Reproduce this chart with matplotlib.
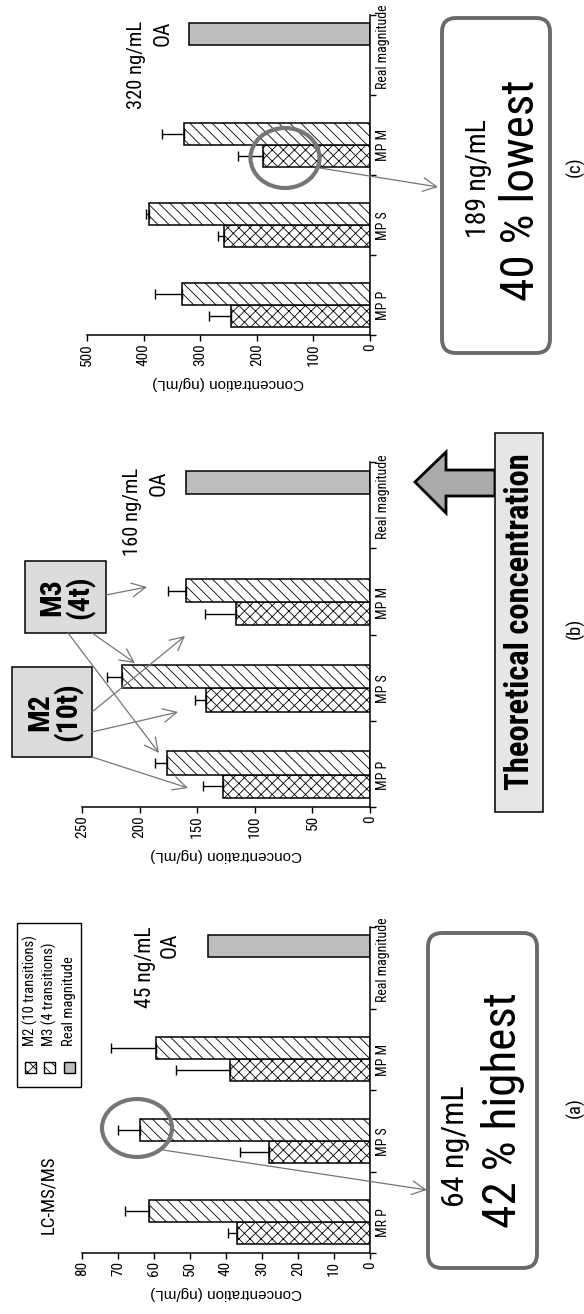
import numpy as np
import matplotlib.pyplot as plt
from matplotlib.patches import Rectangle, Ellipse, FancyBboxPatch, Polygon

plt.rcParams['font.family'] = ['Roboto Condensed', 'Liberation Sans', 'DejaVu Sans']
plt.rcParams['hatch.linewidth'] = 0.6

# data
cats_a = ['MR P', 'MP S', 'MP M', 'Real magnitude']
cats_bc = ['MP P', 'MP S', 'MP M', 'Real magnitude']

m2_a = [37, 28, 39]
m2_err_a = [2.5, 8, 15]
m3_a = [61.5, 64, 59.5]
m3_err_a = [6.5, 6, 12.5]
real_a = 45

m2_b = [128, 142, 116]
m2_err_b = [17, 10, 27]
m3_b = [176, 215, 160]
m3_err_b = [11, 13, 15]
real_b = 160

m2_c = [246, 258, 189]
m2_err_c = [39, 10, 45]
m3_c = [333, 390, 328]
m3_err_c = [46, 5, 40]
real_c = 320

W, H = 584, 1314
fig = plt.figure(figsize=(W / 100, H / 100), dpi=100)

GRAY = '#bdbdbd'
ANN = '#767676'


def draw_panel(rect, cats, m2, m2e, m3, m3e, real, vmax, step):
    l, t, r, b = rect
    ax = fig.add_axes([l / W, 1 - b / H, (r - l) / W, (b - t) / H])
    idx = np.arange(len(m2))
    ax.barh(idx + 0.24, m2, height=0.27, color='white', edgecolor='black',
            hatch='xxx', lw=1.1)
    ax.barh(idx + 0.51, m3, height=0.27, color='white', edgecolor='black',
            hatch='\\\\\\', lw=1.1)
    ax.barh(3.765, real, height=0.27, color=GRAY, edgecolor='black', lw=1.1)
    ax.errorbar(m2, idx + 0.24, xerr=[np.zeros(len(m2)), m2e], fmt='none',
                ecolor='black', elinewidth=1, capsize=3.5, capthick=1)
    ax.errorbar(m3, idx + 0.51, xerr=[np.zeros(len(m3)), m3e], fmt='none',
                ecolor='black', elinewidth=1, capsize=3.5, capthick=1)

    ax.set_xlim(vmax, 0)
    ax.set_ylim(0, 4)
    for s in ['top', 'left']:
        ax.spines[s].set_visible(False)
    for s in ['bottom', 'right']:
        ax.spines[s].set_linewidth(1.1)

    ax.set_xticks(np.arange(0, vmax + 1, step))
    ax.tick_params(axis='x', direction='out', length=4, width=1,
                   labelsize=11, labelrotation=90, pad=2)

    ax.yaxis.tick_right()
    ax.set_yticks([0, 1, 2, 3, 4])
    ax.set_yticklabels([])
    ax.set_yticks([0.37, 1.37, 2.37, 3.6], minor=True)
    ax.set_yticklabels(cats, minor=True, rotation=90, va='center', fontsize=10)
    ax.tick_params(axis='y', which='major', direction='out', length=4, width=1)
    ax.tick_params(axis='y', which='minor', length=0, pad=4)

    ax.set_xlabel('Concentration (ng/mL)', rotation=180, fontsize=11,
                  family=['Liberation Sans', 'DejaVu Sans'], labelpad=7)
    return ax


draw_panel((82, 927, 370, 1253), cats_a, m2_a, m2_err_a, m3_a, m3_err_a, real_a, 80, 10)
draw_panel((82, 462, 370, 807), cats_bc, m2_b, m2_err_b, m3_b, m3_err_b, real_b, 250, 50)
draw_panel((87, 15, 370, 335), cats_bc, m2_c, m2_err_c, m3_c, m3_err_c, real_c, 500, 100)

# overlay in image pixel coordinates for the annotations
ov = fig.add_axes([0, 0, 1, 1], zorder=10)
ov.set_xlim(0, W)
ov.set_ylim(H, 0)
ov.axis('off')
ov.patch.set_alpha(0)


def vtext(x, y, s, size, **kw):
    ov.text(x, y, s, rotation=90, ha=kw.pop('ha', 'center'), va=kw.pop('va', 'center'),
            fontsize=size, **kw)


def arrow(x0, y0, x1, y1):
    ov.annotate('', xy=(x1, y1), xytext=(x0, y0),
                arrowprops=dict(arrowstyle='->,head_length=0.7,head_width=0.35',
                                color=ANN, lw=0.9, shrinkA=0, shrinkB=0,
                                mutation_scale=14))


# panel (a)
vtext(48, 1195, 'LC-MS/MS', 13.5)
ov.add_patch(Rectangle((17, 923), 64, 164, fc='white', ec='black', lw=1))
legend_items = [('M2 (10 transitions)', 'xxx', 'white'),
                ('M3 (4 transitions)', '\\\\\\', 'white'),
                ('Real magnitude', None, GRAY)]
for k, (lab, hatch, fc) in enumerate(legend_items):
    x = 30 + k * 19.5
    ov.add_patch(Rectangle((x - 5.5, 1062), 11, 11, fc=fc, ec='black', lw=1, hatch=hatch))
    vtext(x, 1046, lab, 10.5, va='bottom')
vtext(145, 967, '45 ng/mL', 15.5)
vtext(170, 945, 'OA', 15.5)
ov.add_patch(Ellipse((137, 1128), 70, 58, fc='none', ec=ANN, lw=3))
arrow(163, 1150, 427, 1190)
ov.add_patch(FancyBboxPatch((428, 933), 109, 335, boxstyle='round,pad=0,rounding_size=14',
                            fc='white', ec='#6a6a6a', lw=2.8))
vtext(455, 1146, '64 ng/mL', 23)
vtext(503, 1110, '42 % highest', 34)
vtext(575, 1108, '(a)', 13.5)

# panel (b)
vtext(132, 512, '160 ng/mL', 14.8)
vtext(159, 483, 'OA', 15.5)
ov.add_patch(Rectangle((12, 667), 80, 90, fc='#dcdcdc', ec='black', lw=1.1))
vtext(55, 712, 'M2\n(10t)', 21.5, fontweight='bold', multialignment='center', linespacing=0.95)
ov.add_patch(Rectangle((25, 561), 81, 72, fc='#dcdcdc', ec='black', lw=1.1))
vtext(67, 597, 'M3\n(4t)', 21.5, fontweight='bold', multialignment='center', linespacing=0.95)
for x0, y0, x1, y1 in [(92, 757, 188, 788), (92, 732, 178, 712), (92, 712, 185, 636),
                       (68, 633, 159, 753), (92, 633, 135, 663), (106, 595, 147, 587)]:
    arrow(x0, y0, x1, y1)
ov.add_patch(Polygon([(415, 482), (446, 452), (446, 470), (495, 470), (495, 496),
                      (446, 496), (446, 513)], closed=True, fc='#aaaaaa', ec='black',
                     lw=2, joinstyle='miter'))
ov.add_patch(Rectangle((495, 433), 48, 379, fc='#e6e6e6', ec='black', lw=1.1))
vtext(520, 622, 'Theoretical concentration', 23.5, fontweight='bold')
vtext(575, 628, '(b)', 13.5)

# panel (c)
vtext(137, 65, '320 ng/mL', 14.8)
vtext(163, 33, 'OA', 15.5)
ov.add_patch(Ellipse((285, 158), 69, 60, fc='none', ec=ANN, lw=3))
arrow(320, 168, 438, 187)
ov.add_patch(FancyBboxPatch((442, 18), 108, 335, boxstyle='round,pad=0,rounding_size=14',
                            fc='white', ec='#6a6a6a', lw=2.8))
vtext(478, 178, '189 ng/mL', 20)
vtext(521, 190, '40 % lowest', 34)
vtext(575, 167, '(c)', 13.5)

fig.savefig('out.png', dpi=100)
